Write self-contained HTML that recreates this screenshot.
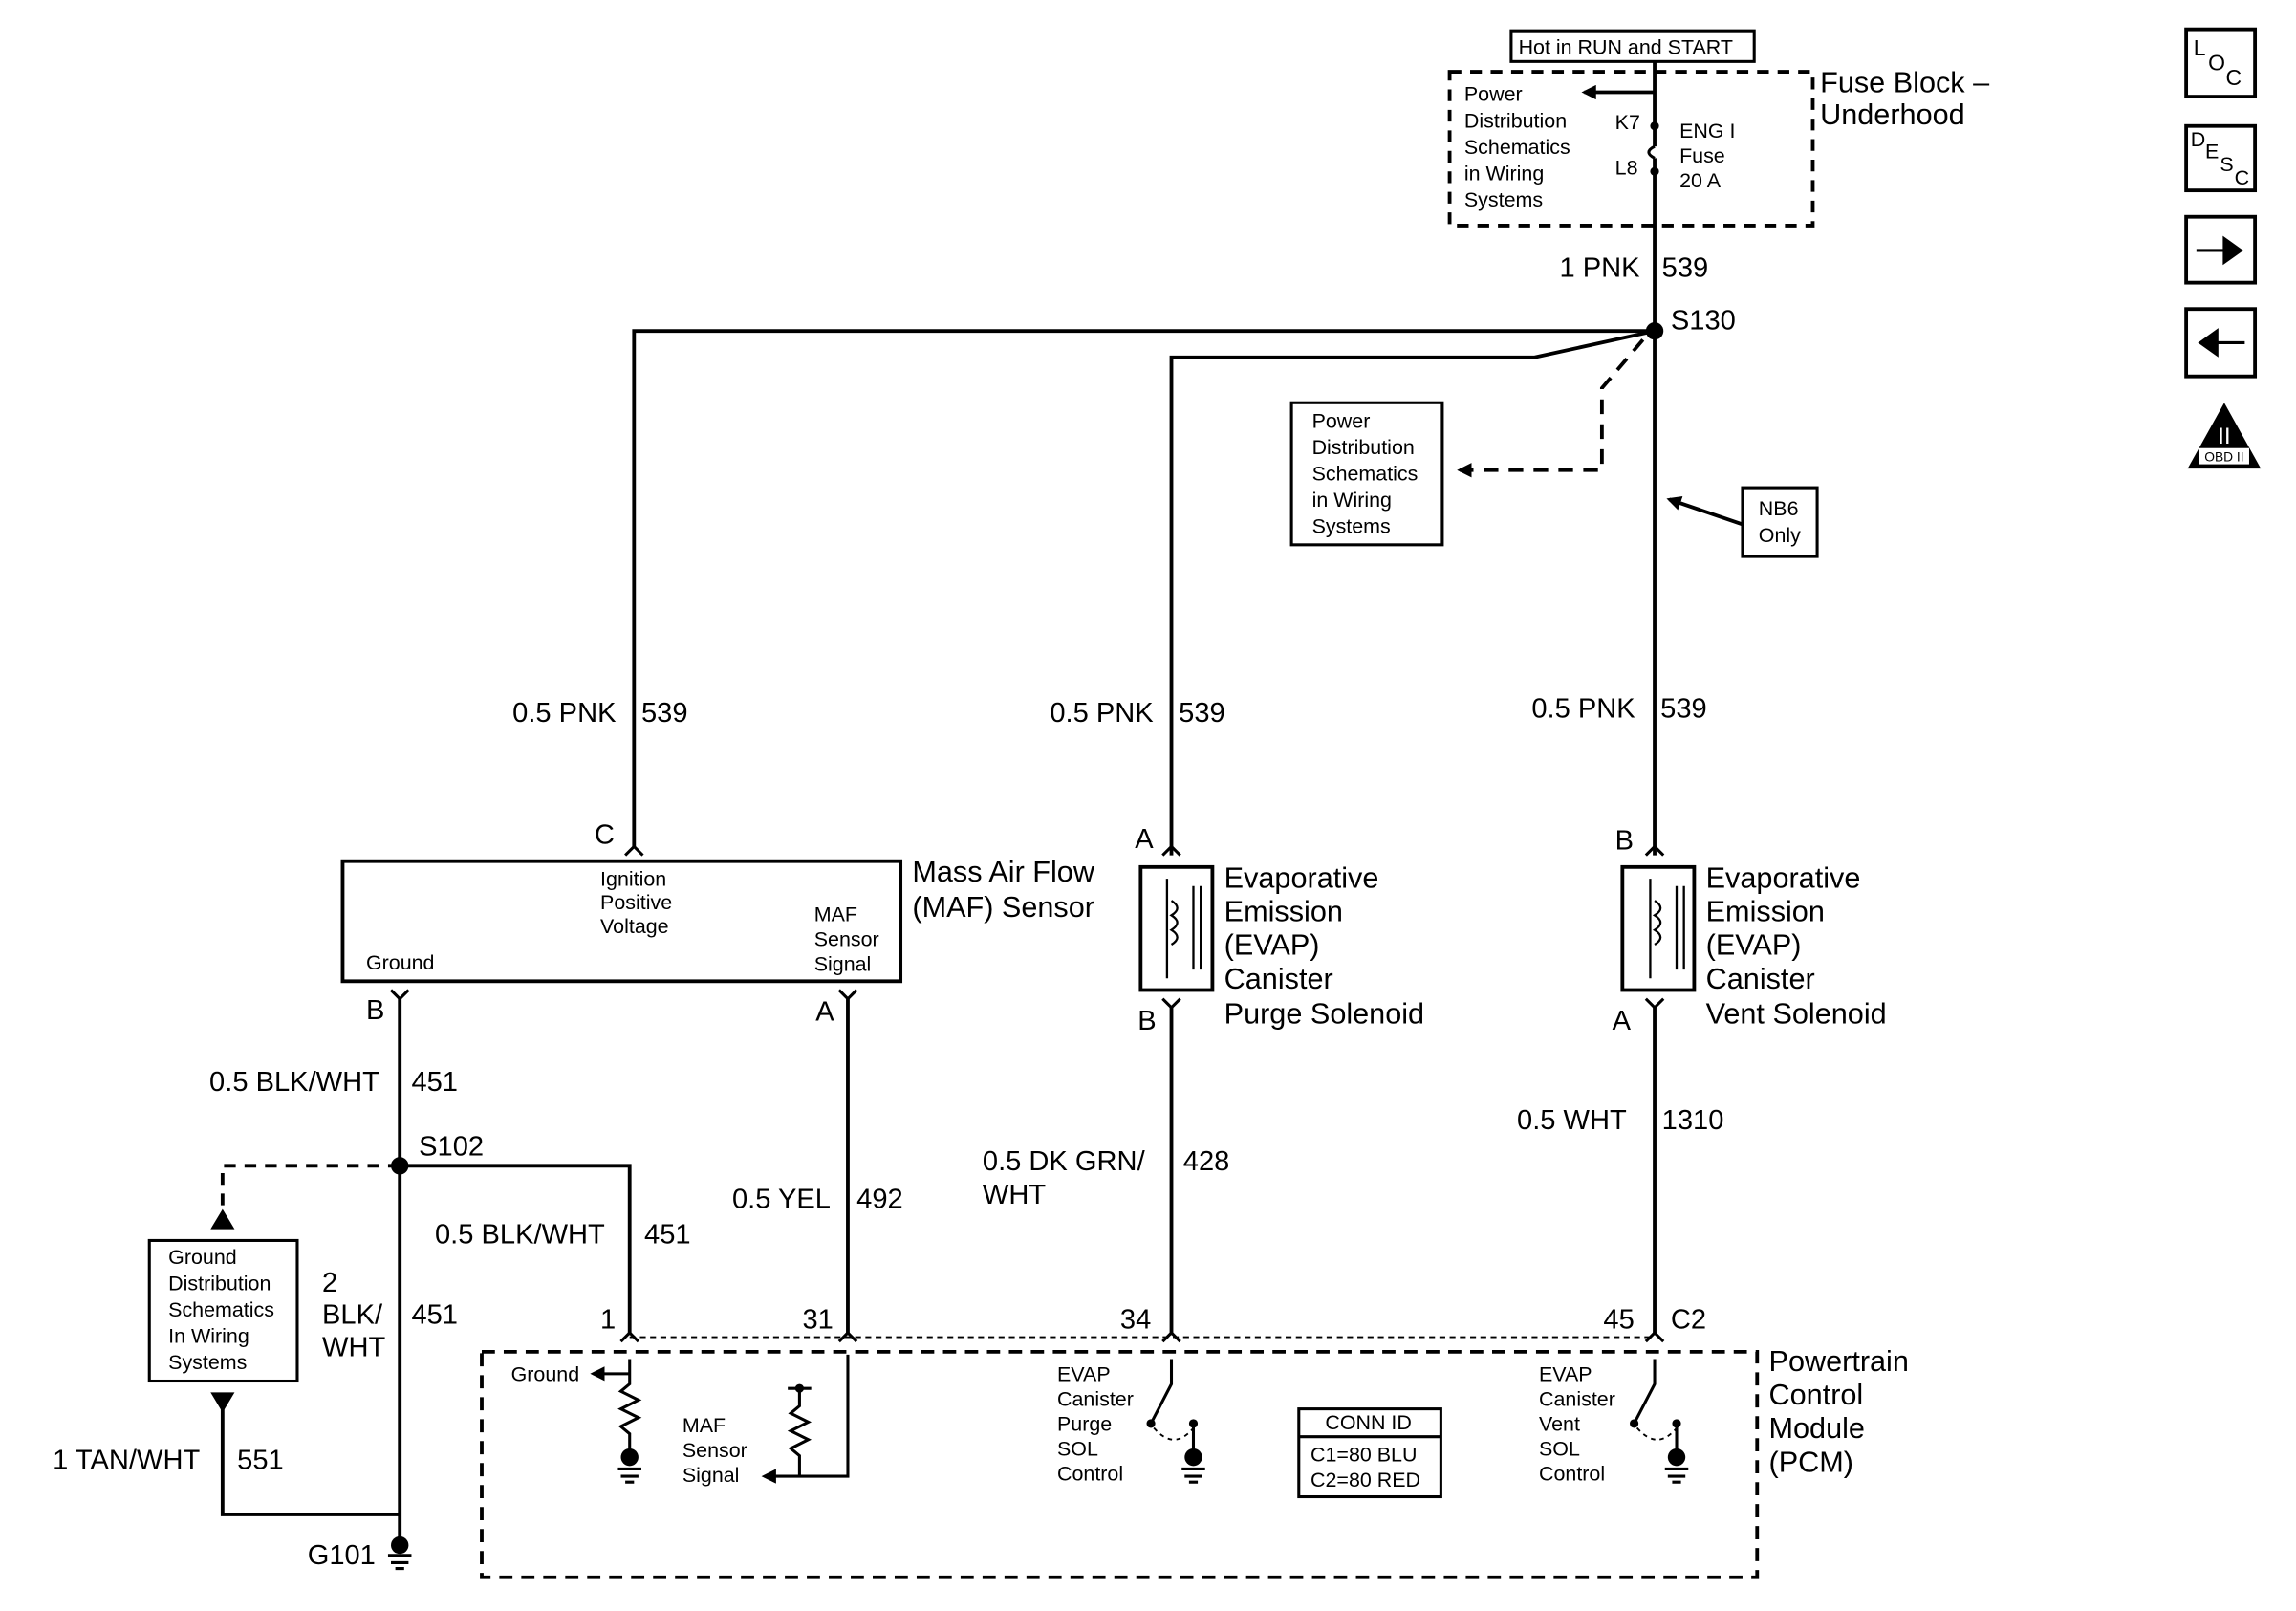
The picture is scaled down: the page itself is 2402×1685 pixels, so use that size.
<!DOCTYPE html>
<html><head><meta charset="utf-8"><style>
html,body{margin:0;padding:0;background:#fff}
svg{display:block;width:2402px;height:1685px}
text{font-family:"Liberation Sans",Arial,sans-serif;fill:#000}
.s{font-size:14px}.m{font-size:19px}.l{font-size:20px}
</style></head><body>
<svg viewBox="0 0 1568 1100" preserveAspectRatio="none" xmlns="http://www.w3.org/2000/svg">
<defs><marker id="ah" markerWidth="10" markerHeight="10" refX="8" refY="5" orient="auto" markerUnits="userSpaceOnUse"><path d="M0,0 L10,5 L0,10 z" fill="#000"/></marker></defs>
<g fill="none" stroke="#000" stroke-width="2.5">
<rect x="1032" y="21" width="166" height="21" stroke-width="2"/>
<rect x="990" y="49" width="248" height="105" stroke-dasharray="8,6"/>
<path d="M1130,42 V100 M1130,108 V226"/>
<path d="M1130,100 q-8,4 0,8" stroke-width="2"/>
<path d="M1130,63 H1082" marker-end="url(#ah)"/>
<path d="M1130,226 H433 V578"/>
<path d="M1130,226 L1048,244 H800 V584"/>
<path d="M1130,226 V584"/>
<path d="M1122,232 L1094,265 V321 H997" stroke-dasharray="10,7" marker-end="url(#ah)"/>
<rect x="882" y="275" width="103" height="97" stroke-width="2"/>
<path d="M1190,358 L1140,341" marker-end="url(#ah)"/>
<rect x="1190" y="333" width="51" height="47" stroke-width="2"/>
<rect x="234" y="588" width="381" height="82"/>
<path d="M427,584 l6,-6 l6,6 M267,676 l6,6 l6,-6 M573,676 l6,6 l6,-6" stroke-width="2"/>
<path d="M273,682 V1055 M273,796 H430 V910 M579,682 V910"/>
<path d="M273,796 H152 V838" stroke-dasharray="8,6"/>
<path d="M146,838 l6,-10 l6,10z" fill="#000"/>
<rect x="102" y="847" width="101" height="96" stroke-width="2"/>
<path d="M146,952 l6,10 l6,-10z" fill="#000"/>
<path d="M152,962 V1034 H273"/>
<rect x="779" y="592" width="49" height="84"/>
<rect x="1108" y="592" width="49" height="84"/>
<path d="M794,584 l6,-6 l6,6 M794,682 l6,6 l6,-6 M1124,584 l6,-6 l6,6 M1124,682 l6,6 l6,-6" stroke-width="2"/>
<path d="M800,688 V910 M1130,688 V910"/>
<path d="M797,600 V668 M1127,600 V668 M815,605 V662 M820,605 V662 M1145,605 V662 M1150,605 V662" stroke-width="1.5"/>
<path d="M800,615 q8,5 0,10 q8,5 0,10 q8,5 0,10" stroke-width="1.5"/>
<path d="M1130,615 q8,5 0,10 q8,5 0,10 q8,5 0,10" stroke-width="1.5"/>
<rect x="329" y="923" width="871" height="154" stroke-dasharray="9,6"/>
<path d="M430,913 H1130" stroke-dasharray="4,3" stroke-width="1.2"/>
<path d="M424,916 l6,-6 l6,6 M573,916 l6,-6 l6,6 M794,916 l6,-6 l6,6 M1124,916 l6,-6 l6,6" stroke-width="2"/>
<path d="M430,928 V945 l-6,5 l12,6 l-12,6 l12,6 l-12,6 l6,5 V995" stroke-width="2"/>
<path d="M430,938 H405" stroke-width="2" marker-end="url(#ah)"/>
<path d="M579,925 V1008 H522" stroke-width="2" marker-end="url(#ah)"/>
<path d="M546,948 V960 l-6,5 l12,6 l-12,6 l12,6 l-12,6 l6,5 V1008 M538,948 H554" stroke-width="2"/>
<path d="M800,928 V945 L786,972 M815,972 V995 M1130,928 V945 L1116,972 M1145,972 V995" stroke-width="2"/>
<path d="M788,975 q14,16 27,0 M1118,975 q14,16 27,0" stroke-dasharray="3,3" stroke-width="1.2"/>
<rect x="887" y="962" width="97" height="60" stroke-width="2"/>
<path d="M887,981 H984" stroke-width="2"/>
<path d="M422,1003 H438 M424,1008 H436 M427,1012 H433 M807,1003 H823 M809,1008 H821 M812,1012 H818 M1137,1003 H1153 M1139,1008 H1151 M1142,1012 H1148 M265,1062 H281 M267,1067 H279 M270,1071 H276" stroke-width="2"/>
<rect x="1493" y="20" width="47" height="46"/>
<rect x="1493" y="86" width="47" height="44"/>
<rect x="1493" y="148" width="47" height="45"/>
<rect x="1493" y="211" width="47" height="46"/>
</g>
<circle cx="1130" cy="86" r="3"/><circle cx="1130" cy="117" r="3"/>
<circle cx="1130" cy="226" r="6"/><circle cx="273" cy="796" r="6"/>
<circle cx="430" cy="995" r="6"/><circle cx="815" cy="995" r="6"/><circle cx="1145" cy="995" r="6"/><circle cx="273" cy="1055" r="6"/>
<circle cx="546" cy="948" r="3"/><circle cx="786" cy="972" r="3"/><circle cx="815" cy="972" r="3"/><circle cx="1116" cy="972" r="3"/><circle cx="1145" cy="972" r="3"/>
<path d="M1500,170 H1518 V161 L1532,171 L1518,181 V172 H1500z"/>
<path d="M1533,233 H1515 V224 L1501,234 L1515,244 V235 H1533z"/>
<path d="M1519,275 L1544,320 H1494z"/>
<rect x="1502" y="306" width="34" height="11" fill="#fff"/>
<text x="1519" y="315" font-size="9" text-anchor="middle">OBD II</text>
<text x="1519" y="303" font-size="16" text-anchor="middle" style="fill:#fff">II</text>
<text x="1498" y="38" font-size="15">L</text><text x="1508" y="48" font-size="15">O</text><text x="1520" y="58" font-size="15">C</text>
<text x="1496" y="100" font-size="14">D</text><text x="1506" y="108" font-size="14">E</text><text x="1516" y="117" font-size="14">S</text><text x="1526" y="126" font-size="14">C</text>
<text x="1037" y="37" class="s">Hot in RUN and START</text>
<g class="s"><text x="1000" y="69">Power</text><text x="1000" y="87">Distribution</text><text x="1000" y="105">Schematics</text><text x="1000" y="123">in Wiring</text><text x="1000" y="141">Systems</text></g>
<text x="1103" y="88" class="s">K7</text><text x="1103" y="119" class="s">L8</text>
<g class="s"><text x="1147" y="94">ENG I</text><text x="1147" y="111">Fuse</text><text x="1147" y="128">20 A</text></g>
<text x="1243" y="63" class="l">Fuse Block –</text><text x="1243" y="85" class="l">Underhood</text>
<text x="1065" y="189" class="m">1 PNK</text><text x="1135" y="189" class="m">539</text>
<text x="1141" y="225" class="m">S130</text>
<g class="s"><text x="896" y="292">Power</text><text x="896" y="310">Distribution</text><text x="896" y="328">Schematics</text><text x="896" y="346">in Wiring</text><text x="896" y="364">Systems</text></g>
<text x="1201" y="352" class="s">NB6</text><text x="1201" y="370" class="s">Only</text>
<text x="350" y="493" class="m">0.5 PNK</text><text x="438" y="493" class="m">539</text>
<text x="717" y="493" class="m">0.5 PNK</text><text x="805" y="493" class="m">539</text>
<text x="1046" y="490" class="m">0.5 PNK</text><text x="1134" y="490" class="m">539</text>
<text x="406" y="576" class="m">C</text><text x="775" y="579" class="m">A</text><text x="1103" y="580" class="m">B</text>
<g class="s"><text x="410" y="605">Ignition</text><text x="410" y="621">Positive</text><text x="410" y="637">Voltage</text><text x="556" y="629">MAF</text><text x="556" y="646">Sensor</text><text x="556" y="663">Signal</text><text x="250" y="662">Ground</text></g>
<text x="623" y="602" class="l">Mass Air Flow</text><text x="623" y="626" class="l">(MAF) Sensor</text>
<g class="l"><text x="836" y="606">Evaporative</text><text x="836" y="629">Emission</text><text x="836" y="652">(EVAP)</text><text x="836" y="675">Canister</text><text x="836" y="699">Purge Solenoid</text>
<text x="1165" y="606">Evaporative</text><text x="1165" y="629">Emission</text><text x="1165" y="652">(EVAP)</text><text x="1165" y="675">Canister</text><text x="1165" y="699">Vent Solenoid</text></g>
<text x="250" y="696" class="m">B</text><text x="557" y="697" class="m">A</text><text x="777" y="703" class="m">B</text><text x="1101" y="703" class="m">A</text>
<text x="143" y="745" class="m">0.5 BLK/WHT</text><text x="281" y="745" class="m">451</text>
<text x="286" y="789" class="m">S102</text>
<text x="297" y="849" class="m">0.5 BLK/WHT</text><text x="440" y="849" class="m">451</text>
<text x="500" y="825" class="m">0.5 YEL</text><text x="585" y="825" class="m">492</text>
<text x="671" y="799" class="m">0.5 DK GRN/</text><text x="671" y="822" class="m">WHT</text><text x="808" y="799" class="m">428</text>
<text x="1036" y="771" class="m">0.5 WHT</text><text x="1135" y="771" class="m">1310</text>
<g class="s"><text x="115" y="863">Ground</text><text x="115" y="881">Distribution</text><text x="115" y="899">Schematics</text><text x="115" y="917">In Wiring</text><text x="115" y="935">Systems</text></g>
<text x="220" y="882" class="m">2</text><text x="220" y="904" class="m">BLK/</text><text x="220" y="926" class="m">WHT</text><text x="281" y="904" class="m">451</text>
<text x="36" y="1003" class="m">1 TAN/WHT</text><text x="162" y="1003" class="m">551</text>
<text x="210" y="1068" class="m">G101</text>
<text x="410" y="907" class="m">1</text><text x="548" y="907" class="m">31</text><text x="765" y="907" class="m">34</text><text x="1095" y="907" class="m">45</text><text x="1141" y="907" class="m">C2</text>
<text x="349" y="943" class="s">Ground</text>
<g class="s"><text x="466" y="978">MAF</text><text x="466" y="995">Sensor</text><text x="466" y="1012">Signal</text>
<text x="722" y="943">EVAP</text><text x="722" y="960">Canister</text><text x="722" y="977">Purge</text><text x="722" y="994">SOL</text><text x="722" y="1011">Control</text>
<text x="1051" y="943">EVAP</text><text x="1051" y="960">Canister</text><text x="1051" y="977">Vent</text><text x="1051" y="994">SOL</text><text x="1051" y="1011">Control</text>
<text x="905" y="976">CONN ID</text><text x="895" y="998">C1=80 BLU</text><text x="895" y="1015">C2=80 RED</text></g>
<g class="l"><text x="1208" y="936">Powertrain</text><text x="1208" y="959">Control</text><text x="1208" y="982">Module</text><text x="1208" y="1005">(PCM)</text></g>
</svg>
</body></html>
